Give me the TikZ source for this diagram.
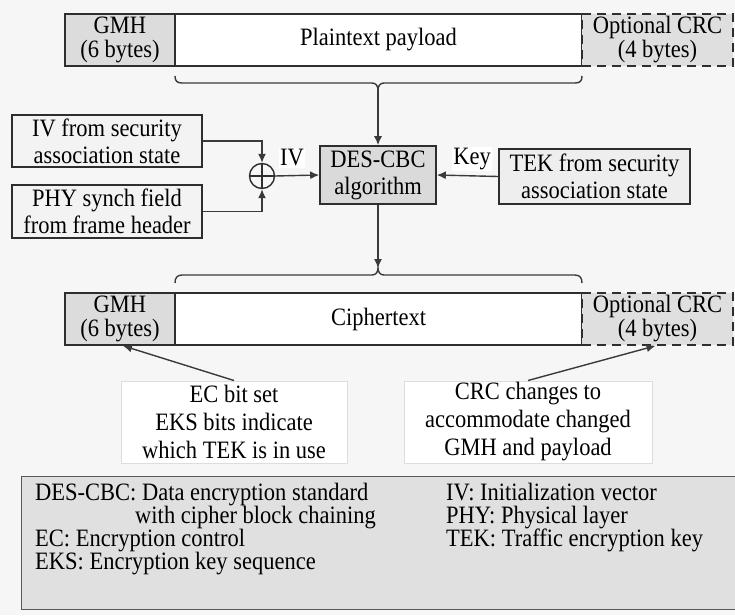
\documentclass[tikz,border=0pt]{standalone}
\usepackage{fontspec}
\setmainfont{Liberation Serif}[FakeStretch=0.9]
\usetikzlibrary{arrows.meta}

\definecolor{pagebg}{HTML}{F6F6F6}
\definecolor{ink}{HTML}{2E2E2E}
\definecolor{wire}{HTML}{3A3A3A}
\definecolor{gmhfill}{HTML}{DCDCDC}
\definecolor{crcfill}{HTML}{DFDFDF}
\definecolor{desfill}{HTML}{DADADA}
\definecolor{tekfill}{HTML}{EEEEEE}
\definecolor{srcfill}{HTML}{F3F3F3}
\definecolor{notebd}{HTML}{DDDDDD}
\definecolor{legfill}{HTML}{E0E0E0}

\tikzset{
  txt/.style={font=\fontsize{25}{27}\selectfont},
  box/.style={draw=ink, line width=1.6pt, inner sep=0pt, align=center, txt},
  cell/.style={box, minimum height=52pt, font=\fontsize{25}{24}\selectfont},
  optcell/.style={cell, dashed, dash pattern=on 9pt off 6pt, fill=crcfill},
  flow/.style={draw=wire, line width=1.4pt},
  arr/.style={flow, -{Latex[length=9pt,width=8pt]}},
  tag/.style={fill=white, inner sep=1.5pt, txt},
  note/.style={draw=notebd, line width=1pt, fill=white, align=center, inner sep=0pt,
               font=\fontsize{25}{28}\selectfont},
  legtxt/.style={font=\fontsize{25}{24}\selectfont, inner sep=0pt},
}

\begin{document}
\begin{tikzpicture}[x=1pt, y=-1pt]
  \useasboundingbox (0,0) rectangle (735,615);
  \fill[pagebg] (0,0) rectangle (735,615);

  % plaintext frame
  \node[cell, fill=gmhfill, minimum width=110pt] (gmhA) at (120,40) {GMH\\(6 bytes)};
  \node[cell, fill=white, minimum width=407pt] (plainA) at (378.5,40) {Plaintext payload};
  \node[optcell, minimum width=151pt] (crcA) at (657.5,40) {Optional CRC\\(4 bytes)};

  % brace under the payload
  \coordinate (braceA) at (378,90);
  \draw[flow] (175,76) .. controls (175,81) and (177,83) .. (182,83) -- (372,83)
     .. controls (376,83) and (378,86) .. (braceA)
     .. controls (378,86) and (380,83) .. (384,83) -- (575,83)
     .. controls (580,83) and (582,81) .. (582,76);

  % cipher and its inputs
  \node[box, fill=desfill, minimum width=116pt, minimum height=58pt] (des) at (378,175) {DES-CBC\\algorithm};
  \node[box, fill=tekfill, minimum width=191pt, minimum height=55pt] (tek) at (594.5,176.5) {TEK from security\\association state};
  \node[box, fill=srcfill, minimum width=190pt, minimum height=52pt] (ivsrc) at (107,141) {IV from security\\association state};
  \node[box, fill=srcfill, minimum width=190pt, minimum height=53pt] (phy) at (107,211.5) {PHY synch field\\from frame header};

  % XOR of the two IV sources
  \node[draw=ink, line width=1.4pt, circle, minimum size=25pt, inner sep=0pt] (xor) at (262,176) {};
  \draw[draw=ink, line width=1.2pt] (xor.north) -- (xor.south) (xor.west) -- (xor.east);

  \draw[arr] (braceA) -- (des.north);
  \draw[arr] (ivsrc.east) -| (xor.north);
  \draw[arr] (phy.east) -| (xor.south);
  \draw[arr] (xor.east) -- (des.west);
  \draw[arr] (tek.west) -- (des.east);
  \node[tag] (ivtag) at (292,158) {IV};
  \node[tag] (keytag) at (472,159) {Key};

  % brace over the ciphertext
  \coordinate (braceB) at (378,268);
  \draw[arr] (des.south) -- (braceB);
  \draw[flow] (175,283) .. controls (175,278) and (177,275) .. (182,275) -- (372,275)
     .. controls (376,275) and (378,272) .. (braceB)
     .. controls (378,272) and (380,275) .. (384,275) -- (575,275)
     .. controls (580,275) and (582,278) .. (582,283);

  % ciphertext frame
  \node[cell, fill=gmhfill, minimum width=110pt] (gmhB) at (120,319) {GMH\\(6 bytes)};
  \node[cell, fill=white, minimum width=407pt] (cipher) at (378.5,319) {Ciphertext};
  \node[optcell, minimum width=151pt] (crcB) at (657.5,319) {Optional CRC\\(4 bytes)};

  % notes on changed fields
  \node[note, minimum width=226pt, minimum height=82pt] (noteL) at (234,422)
    {EC bit set\\EKS bits indicate\\which TEK is in use};
  \node[note, minimum width=248pt, minimum height=82pt] (noteR) at (528,422)
    {CRC changes to\\accommodate changed\\GMH and payload};
  \draw[arr] (noteL.north) -- ([xshift=3pt]gmhB.south);
  \draw[arr] (noteR.north) -- ([xshift=-2pt]crcB.south);

  % legend
  \node[draw=ink!80, line width=1.4pt, fill=legfill, anchor=north west,
        minimum width=730pt, minimum height=133pt, inner sep=0pt] (legend) at (21,476) {};
  \node[legtxt, anchor=mid west] (legA1) at (35,498) {DES-CBC: Data encryption standard};
  \node[legtxt, anchor=mid east] (legA2) at (376,521) {with cipher block chaining};
  \node[legtxt, anchor=mid west] (legA3) at (35,544) {EC: Encryption control};
  \node[legtxt, anchor=mid west] (legA4) at (35,567) {EKS: Encryption key sequence};
  \node[legtxt, anchor=mid west] (legB1) at (446,498) {IV: Initialization vector};
  \node[legtxt, anchor=mid west] (legB2) at (446,521) {PHY: Physical layer};
  \node[legtxt, anchor=mid west] (legB3) at (446,544) {TEK: Traffic encryption key};
\end{tikzpicture}
\end{document}
